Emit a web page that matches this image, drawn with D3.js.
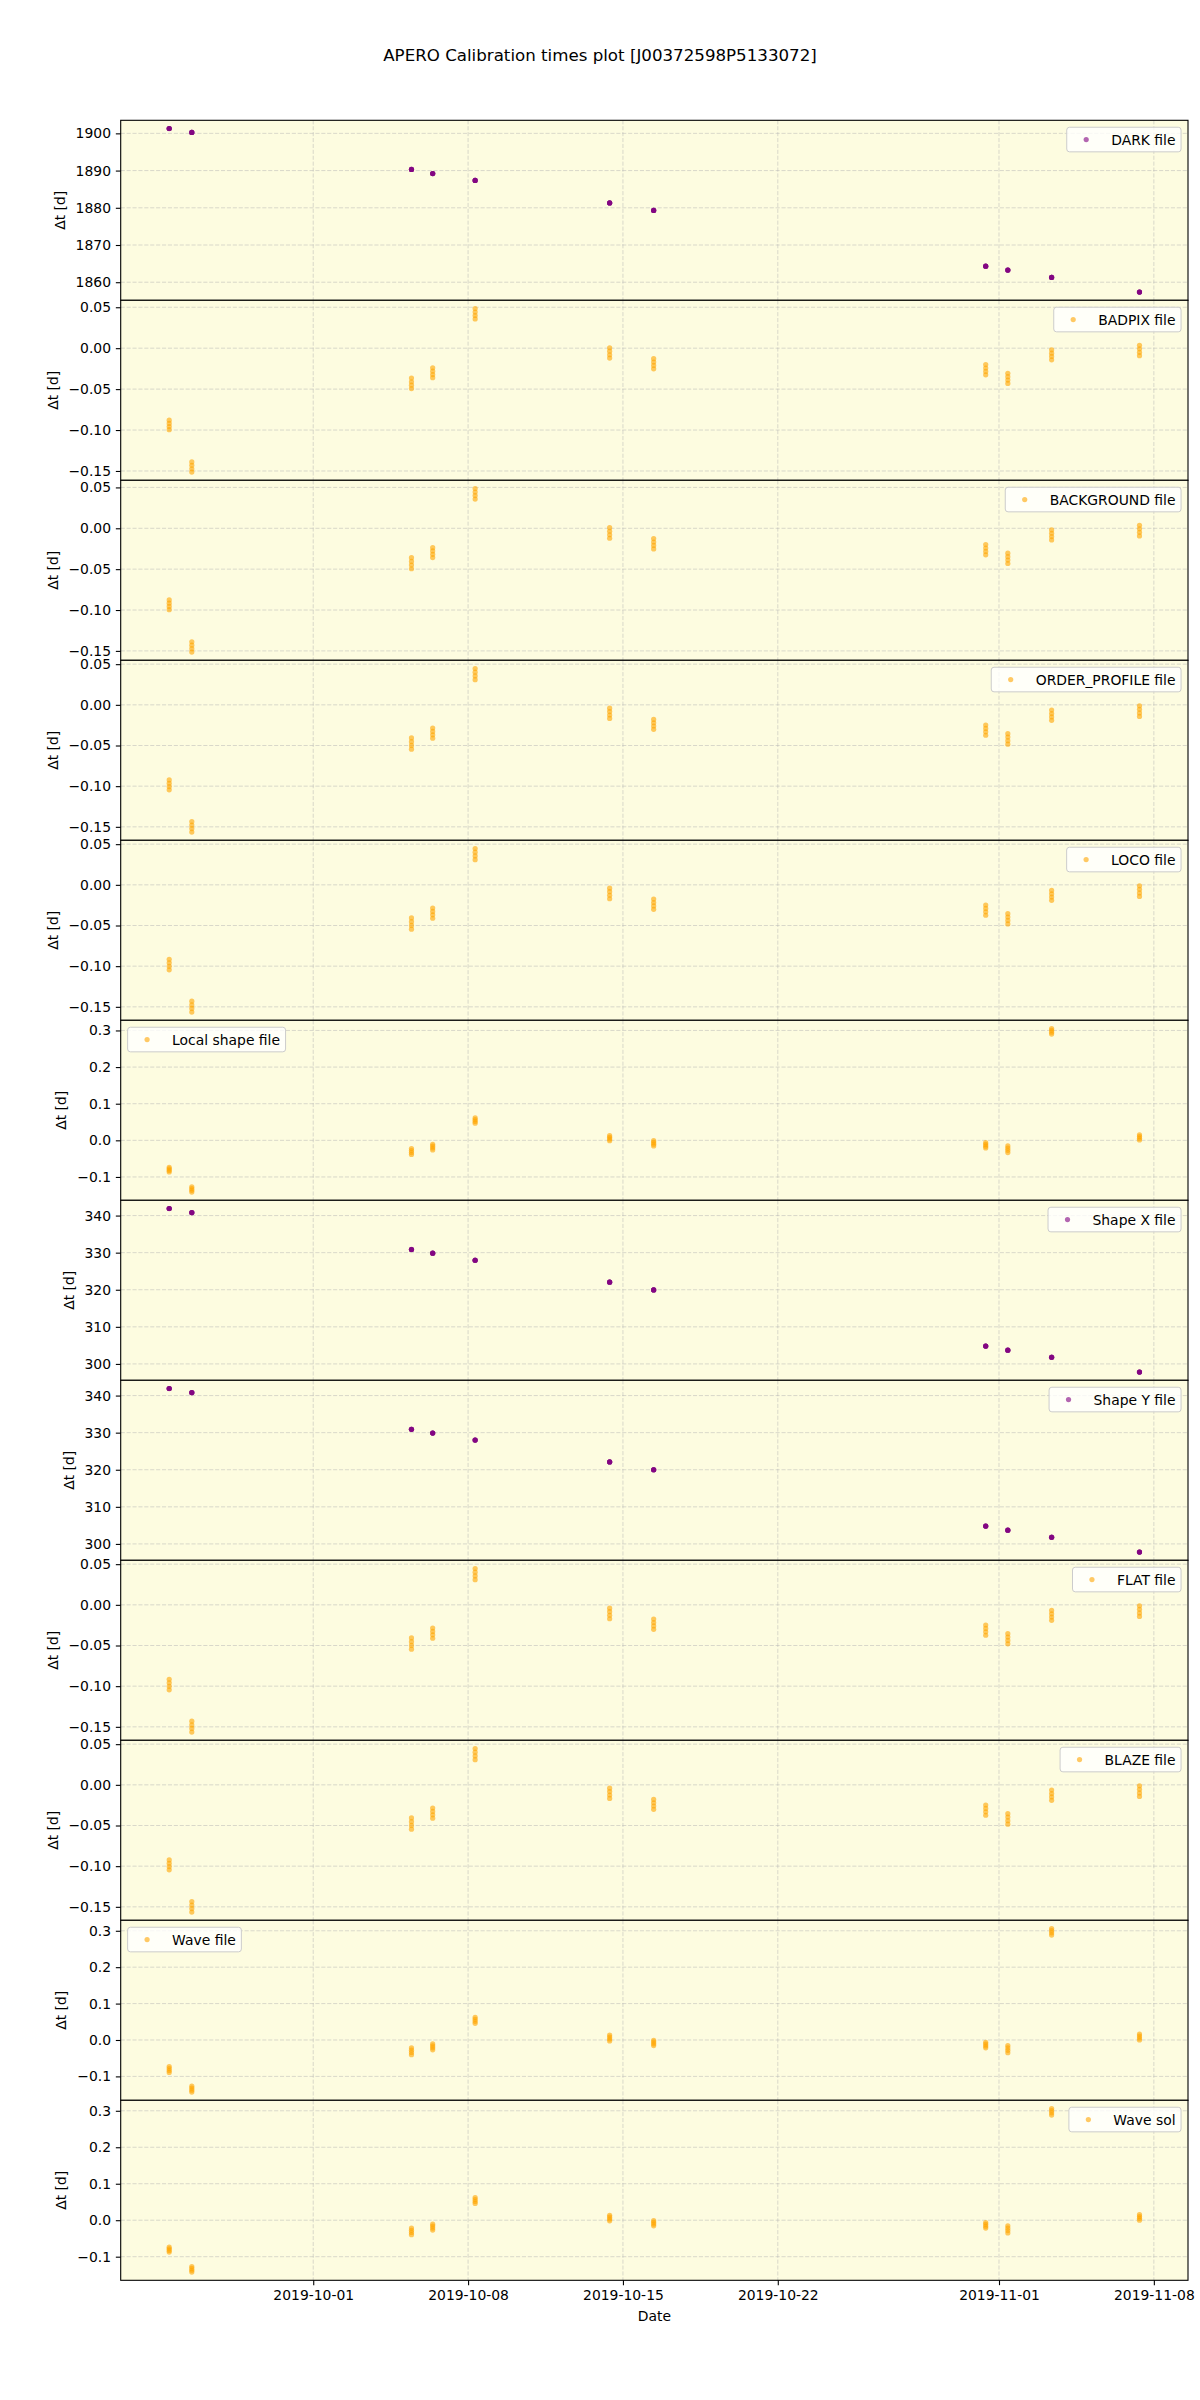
<!DOCTYPE html>
<html><head><meta charset="utf-8">
<script src="https://cdn.jsdelivr.net/npm/d3@7/dist/d3.min.js"></script>
<style>
body{margin:0;background:#fff}
svg{display:block}
text{font-family:"DejaVu Sans",sans-serif;fill:#000}
</style>
</head><body>
<svg id="chart" width="1200" height="2400"></svg>
<script>
// ---------------- DATA ----------------
const titleText = "APERO Calibration times plot [J00372598P5133072]";
const nightDates = ["2019-09-24T11:45:00Z","2019-09-25T12:15:00Z","2019-10-05T10:35:00Z","2019-10-06T09:35:00Z",
  "2019-10-08T07:40:00Z","2019-10-14T09:35:00Z","2019-10-16T09:20:00Z","2019-10-31T09:35:00Z",
  "2019-11-01T09:35:00Z","2019-11-03T09:05:00Z","2019-11-07T08:25:00Z"];
const xTickDates = ["2019-10-01","2019-10-08","2019-10-15","2019-10-22","2019-11-01","2019-11-08"];
const xTickLabels = ["2019-10-01","2019-10-08","2019-10-15","2019-10-22","2019-11-01","2019-11-08"];

const panelNames = ["DARK file","BADPIX file","BACKGROUND file","ORDER_PROFILE file","LOCO file","Local shape file",
  "Shape X file","Shape Y file","FLAT file","BLAZE file","Wave file","Wave sol"];
const panelColors = ["purple","orange","orange","orange","orange","orange","purple","purple","orange","orange","orange","orange"];
const legendSides = ["right","right","right","right","right","left","right","right","right","right","left","right"];

// dt values per night (4 exposures per night)
const darkDt = [
 [1901.31,1901.30,1901.30,1901.29],[1900.26,1900.25,1900.25,1900.24],[1890.31,1890.30,1890.30,1890.29],
 [1889.21,1889.20,1889.20,1889.19],[1887.36,1887.35,1887.35,1887.34],[1881.31,1881.30,1881.30,1881.29],
 [1879.31,1879.30,1879.30,1879.29],[1864.31,1864.30,1864.30,1864.29],[1863.26,1863.25,1863.25,1863.24],
 [1861.31,1861.30,1861.30,1861.29],[1857.36,1857.35,1857.35,1857.34]];
const badpixDt = [
 [-0.0880,-0.0919,-0.0957,-0.0995],[-0.1390,-0.1431,-0.1473,-0.1514],[-0.0365,-0.0410,-0.0452,-0.0494],
 [-0.0240,-0.0281,-0.0322,-0.0360],[0.0485,0.0441,0.0399,0.0358],[0.0005,-0.0037,-0.0080,-0.0121],
 [-0.0128,-0.0170,-0.0211,-0.0252],[-0.0200,-0.0242,-0.0284,-0.0325],[-0.0306,-0.0348,-0.0390,-0.0431],
 [-0.0020,-0.0061,-0.0101,-0.0142],[0.0035,-0.0008,-0.0050,-0.0092]];
const backgroundDt = [
 [-0.0876,-0.0916,-0.0956,-0.0996],[-0.1388,-0.1430,-0.1473,-0.1515],[-0.0360,-0.0405,-0.0450,-0.0495],
 [-0.0237,-0.0277,-0.0318,-0.0358],[0.0487,0.0443,0.0400,0.0357],[0.0007,-0.0036,-0.0079,-0.0122],
 [-0.0126,-0.0168,-0.0210,-0.0252],[-0.0199,-0.0241,-0.0283,-0.0325],[-0.0305,-0.0347,-0.0389,-0.0431],
 [-0.0020,-0.0061,-0.0101,-0.0142],[0.0037,-0.0006,-0.0050,-0.0093]];
const orderProfileDt = [
 [-0.0923,-0.0964,-0.1005,-0.1045],[-0.1435,-0.1478,-0.1522,-0.1565],[-0.0407,-0.0453,-0.0499,-0.0545],
 [-0.0285,-0.0327,-0.0369,-0.0410],[0.0447,0.0401,0.0355,0.0309],[-0.0041,-0.0083,-0.0125,-0.0167],
 [-0.0179,-0.0220,-0.0260,-0.0301],[-0.0248,-0.0290,-0.0332,-0.0374],[-0.0354,-0.0397,-0.0441,-0.0484],
 [-0.0065,-0.0107,-0.0149,-0.0191],[-0.0012,-0.0055,-0.0099,-0.0142]];
const locoDt = [
 [-0.0915,-0.0958,-0.1002,-0.1045],[-0.1431,-0.1476,-0.1520,-0.1565],[-0.0407,-0.0453,-0.0499,-0.0545],
 [-0.0285,-0.0327,-0.0369,-0.0411],[0.0447,0.0401,0.0355,0.0309],[-0.0041,-0.0084,-0.0128,-0.0171],
 [-0.0175,-0.0217,-0.0259,-0.0301],[-0.0248,-0.0290,-0.0332,-0.0374],[-0.0354,-0.0396,-0.0438,-0.0480],
 [-0.0069,-0.0110,-0.0150,-0.0191],[-0.0012,-0.0055,-0.0099,-0.0142]];
const localShapeDt = [
 [-0.0739,-0.0781,-0.0823,-0.0865],[-0.1270,-0.1318,-0.1366,-0.1414],[-0.0225,-0.0279,-0.0333,-0.0387],
 [-0.0108,-0.0159,-0.0210,-0.0261],[0.0613,0.0565,0.0516,0.0468],[0.0126,0.0081,0.0036,-0.0009],
 [-0.0009,-0.0057,-0.0105,-0.0153],[-0.0063,-0.0111,-0.0159,-0.0207],[-0.0153,-0.0213,-0.0273,-0.0333],
 [0.3054,0.3003,0.2952,0.2901],[0.0153,0.0105,0.0057,0.0009]];
const shapeXDt = [
 [341.91,341.90,341.90,341.89],[340.81,340.80,340.80,340.79],[330.86,330.85,330.85,330.84],
 [329.86,329.85,329.85,329.84],[327.96,327.95,327.95,327.94],[322.06,322.05,322.05,322.04],
 [319.96,319.95,319.95,319.94],[304.81,304.80,304.80,304.79],[303.71,303.70,303.70,303.69],
 [301.81,301.80,301.80,301.79],[297.81,297.80,297.80,297.79]];
const shapeYDt = [
 [341.91,341.90,341.90,341.89],[340.81,340.80,340.80,340.79],[330.91,330.90,330.90,330.89],
 [329.91,329.90,329.90,329.89],[328.01,328.00,328.00,327.99],[322.11,322.10,322.10,322.09],
 [320.01,320.00,320.00,319.99],[304.81,304.80,304.80,304.79],[303.71,303.70,303.70,303.69],
 [301.81,301.80,301.80,301.79],[297.81,297.80,297.80,297.79]];
const flatDt = [
 [-0.0915,-0.0958,-0.1002,-0.1045],[-0.1431,-0.1476,-0.1520,-0.1565],[-0.0407,-0.0453,-0.0499,-0.0545],
 [-0.0285,-0.0327,-0.0369,-0.0411],[0.0447,0.0401,0.0355,0.0309],[-0.0041,-0.0084,-0.0128,-0.0171],
 [-0.0175,-0.0217,-0.0259,-0.0301],[-0.0248,-0.0290,-0.0332,-0.0374],[-0.0354,-0.0396,-0.0438,-0.0480],
 [-0.0069,-0.0110,-0.0150,-0.0191],[-0.0012,-0.0055,-0.0099,-0.0142]];
const blazeDt = [
 [-0.0923,-0.0964,-0.1005,-0.1045],[-0.1435,-0.1478,-0.1522,-0.1565],[-0.0407,-0.0453,-0.0499,-0.0545],
 [-0.0285,-0.0327,-0.0369,-0.0410],[0.0447,0.0401,0.0355,0.0309],[-0.0041,-0.0083,-0.0125,-0.0167],
 [-0.0179,-0.0220,-0.0260,-0.0301],[-0.0248,-0.0290,-0.0332,-0.0374],[-0.0354,-0.0397,-0.0441,-0.0484],
 [-0.0065,-0.0107,-0.0149,-0.0191],[-0.0012,-0.0055,-0.0099,-0.0142]];
const waveFileDt = [
 [-0.0730,-0.0784,-0.0838,-0.0892],[-0.1270,-0.1324,-0.1378,-0.1432],[-0.0216,-0.0279,-0.0342,-0.0405],
 [-0.0108,-0.0162,-0.0216,-0.0270],[0.0622,0.0568,0.0513,0.0459],[0.0135,0.0081,0.0027,-0.0027],
 [-0.0009,-0.0057,-0.0105,-0.0153],[-0.0063,-0.0114,-0.0165,-0.0216],[-0.0153,-0.0219,-0.0285,-0.0351],
 [0.3063,0.3003,0.2943,0.2883],[0.0162,0.0108,0.0054,0.0000]];
const waveSolDt = [
 [-0.0739,-0.0784,-0.0829,-0.0874],[-0.1270,-0.1321,-0.1372,-0.1423],[-0.0216,-0.0276,-0.0336,-0.0396],
 [-0.0108,-0.0162,-0.0216,-0.0270],[0.0622,0.0568,0.0513,0.0459],[0.0135,0.0084,0.0033,-0.0018],
 [-0.0009,-0.0057,-0.0105,-0.0153],[-0.0063,-0.0114,-0.0165,-0.0216],[-0.0153,-0.0219,-0.0285,-0.0351],
 [0.3063,0.3003,0.2943,0.2883],[0.0153,0.0102,0.0051,0.0000]];
const panelValues = [darkDt,badpixDt,backgroundDt,orderProfileDt,locoDt,localShapeDt,shapeXDt,shapeYDt,flatDt,blazeDt,waveFileDt,waveSolDt];

const darkTicks = [1860,1870,1880,1890,1900];
const darkTickLabels = ["1860","1870","1880","1890","1900"];
const smallTicks = [-0.15,-0.10,-0.05,0.00,0.05];
const smallTickLabels = ["\u22120.15","\u22120.10","\u22120.05","0.00","0.05"];
const waveTicks = [-0.1,0.0,0.1,0.2,0.3];
const waveTickLabels = ["\u22120.1","0.0","0.1","0.2","0.3"];
const shapeTicks = [300,310,320,330,340];
const shapeTickLabels = ["300","310","320","330","340"];
const panelTicks = [darkTicks,smallTicks,smallTicks,smallTicks,smallTicks,waveTicks,shapeTicks,shapeTicks,smallTicks,smallTicks,waveTicks,waveTicks];
const panelTickLabels = [darkTickLabels,smallTickLabels,smallTickLabels,smallTickLabels,smallTickLabels,waveTickLabels,
  shapeTickLabels,shapeTickLabels,smallTickLabels,smallTickLabels,waveTickLabels,waveTickLabels];

// ---------------- LAYOUT ----------------
const L = 120.7, R = 1188, TOP = 120.3, PH = 180;
const FS = 13.9, TICK = 4.86, PAD = 4.86;
const BG = "#fdfce0";
const MR = 2.6, ALPHA = 0.6;

const svg = d3.select("#chart");
svg.append("rect").attr("width",1200).attr("height",2400).attr("fill","#fff");

svg.append("text").attr("x",600).attr("y",60.5).attr("text-anchor","middle")
  .attr("font-size",16.67).text(titleText);

const dates = nightDates.map(d => new Date(d));
const [dmin, dmax] = d3.extent(dates);
const span = dmax - dmin;
const x = d3.scaleUtc().domain([new Date(+dmin - 0.05*span), new Date(+dmax + 0.05*span)]).range([L, R]);
const xt = xTickDates.map(d => new Date(d + "T00:00:00Z"));
const defs = svg.append("defs");

panelNames.forEach((name, i) => {
  const y0 = TOP + i*PH, y1 = y0 + PH;
  const vals = panelValues[i];
  const [vmin, vmax] = d3.extent(vals.flat());
  const r = vmax - vmin;
  const y = d3.scaleLinear().domain([vmin - 0.05*r, vmax + 0.05*r]).range([y1, y0]);
  const g = svg.append("g");
  const cid = "clip" + i;
  defs.append("clipPath").attr("id", cid).append("rect").attr("x",L).attr("y",y0).attr("width",R-L).attr("height",PH);

  g.append("rect").attr("x",L).attr("y",y0).attr("width",R-L).attr("height",PH).attr("fill",BG);

  const grid = g.append("g").attr("clip-path",`url(#${cid})`)
    .attr("stroke","#b0b0b0").attr("stroke-opacity",0.6).attr("stroke-width",0.8).attr("stroke-dasharray","4.1,1.8");
  grid.selectAll(".gx").data(xt).join("line")
    .attr("x1",d=>x(d)).attr("x2",d=>x(d)).attr("y1",y0).attr("y2",y1);
  grid.selectAll(".gy").data(panelTicks[i]).join("line")
    .attr("x1",L).attr("x2",R).attr("y1",d=>y(d)).attr("y2",d=>y(d));

  const pts = [];
  vals.forEach((arr, n) => arr.forEach(v => pts.push({d: dates[n], v})));
  g.append("g").attr("clip-path",`url(#${cid})`).selectAll("circle").data(pts).join("circle")
    .attr("cx",p=>x(p.d)).attr("cy",p=>y(p.v)).attr("r",MR)
    .attr("fill",panelColors[i]).attr("fill-opacity",ALPHA);

  g.append("rect").attr("x",L).attr("y",y0).attr("width",R-L).attr("height",PH)
    .attr("fill","none").attr("stroke","#000").attr("stroke-width",1.1);

  const ay = g.append("g").attr("transform",`translate(${L},0)`)
    .call(d3.axisLeft(y).tickValues(panelTicks[i]).tickFormat((d,k)=>panelTickLabels[i][k]).tickSize(TICK).tickPadding(PAD));
  ay.select(".domain").remove();
  ay.selectAll("line").attr("stroke","#000").attr("stroke-width",1.1);
  ay.selectAll("text").attr("font-size",FS).attr("font-family","DejaVu Sans");

  let minX = 1e9;
  ay.selectAll("text").each(function(){ const b=this.getBBox(); minX=Math.min(minX, L + b.x); });
  const lx = minX - 15.8, ly = (y0+y1)/2;
  g.append("text").attr("transform",`translate(${lx},${ly}) rotate(-90)`)
    .attr("text-anchor","middle").attr("dominant-baseline","central").attr("font-size",FS).text("\u0394t [d]");

  // legend
  const lg = g.append("g");
  const t = lg.append("text").attr("font-size",FS).attr("dominant-baseline","central").text(name);
  const tw = t.node().getComputedTextLength();
  const bp = 5.56, hl = 27.8, htp = 11.1, bh = 24.6;
  const bw = 2*bp + hl + htp + tw;
  const bx = legendSides[i] === "right" ? R - 6.94 - bw : L + 6.94;
  const by = y0 + 6.94;
  lg.insert("rect","text").attr("x",bx).attr("y",by).attr("width",bw).attr("height",bh).attr("rx",2.8)
    .attr("fill","#fff").attr("fill-opacity",0.8).attr("stroke","#cccccc").attr("stroke-width",1);
  lg.insert("circle","text").attr("cx",bx+bp+hl/2).attr("cy",by+bh/2).attr("r",MR)
    .attr("fill",panelColors[i]).attr("fill-opacity",ALPHA);
  t.attr("x",bx+bp+hl+htp).attr("y",by+bh/2+0.5);

  if (i === panelNames.length - 1) {
    const ax = g.append("g").attr("transform",`translate(0,${y1})`)
      .call(d3.axisBottom(x).tickValues(xt).tickFormat((d,k)=>xTickLabels[k]).tickSize(TICK).tickPadding(PAD));
    ax.select(".domain").remove();
    ax.selectAll("line").attr("stroke","#000").attr("stroke-width",1.1);
    ax.selectAll("text").attr("font-size",FS).attr("font-family","DejaVu Sans");
    g.append("text").attr("x",(L+R)/2).attr("y",2320.5).attr("text-anchor","middle").attr("font-size",FS).text("Date");
  }
});
</script>
</body></html>
